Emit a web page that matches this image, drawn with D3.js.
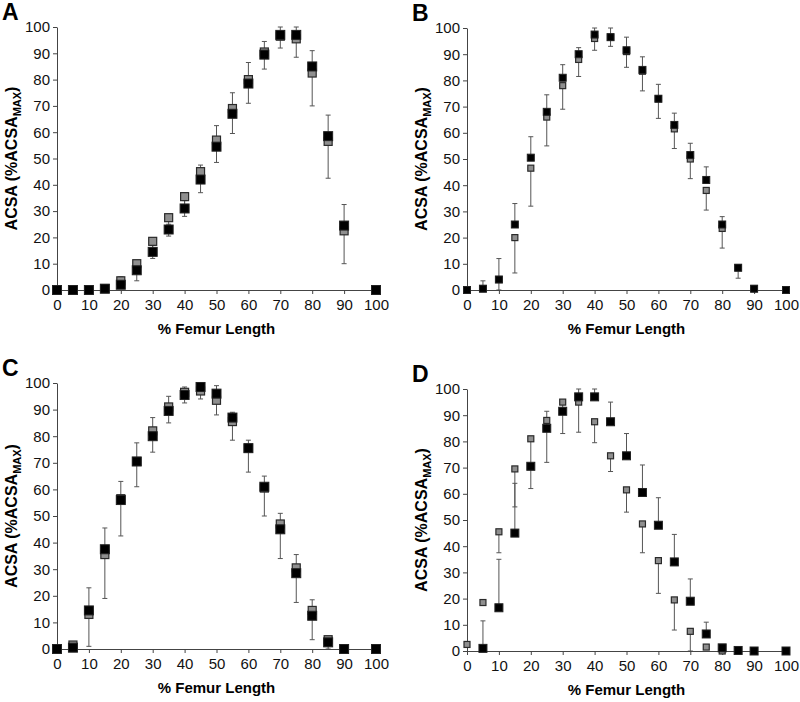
<!DOCTYPE html>
<html>
<head>
<meta charset="utf-8">
<script src="https://cdn.jsdelivr.net/npm/d3@7"></script>
<style>
  body { margin: 0; background: #fff; }
  svg text { font-family: "Liberation Sans", Arial, sans-serif; }
</style>
</head>
<body>
<div class="chart"></div>
<script>
const WIDTH = 800;
const HEIGHT = 702;

// % femur length positions
var femur = [0, 5, 10, 15, 20, 25, 30, 35, 40, 45, 50, 55, 60, 65, 70, 75, 80, 85, 90, 100];
var ticks = [0, 10, 20, 30, 40, 50, 60, 70, 80, 90, 100];

// panel A
var blackA   = [0, 0, 0, 0.5, 2, 7.5, 14.5, 23, 31, 42, 54.5, 67, 78.5, 89.5, 97, 97, 85, 58.5, 24.5, 0];
var grayA    = [0, 0, 0, 0.5, 3.5, 10, 18.5, 27.5, 35.5, 45, 57, 69, 80, 90.5, 96.5, 95.5, 82.5, 56.5, 22.5, 0];
var blackHiA = [0, 0, 0, 0.5, 5, 11, 17, 25, 34, 47.5, 62.5, 75, 86.5, 94.5, 100, 100, 91, 66.5, 32.5, 0];
var grayLoA  = [0, 0, 0, 0.5, 1, 3.5, 12, 20.5, 28, 37, 48.5, 59.5, 71, 84, 92, 88.5, 70, 42.5, 10, 0];

// panel B
var blackB   = [0, 0.5, 4, 25, 50.5, 68, 81, 90, 97.5, 96.5, 91.5, 84, 73, 63, 51.5, 42, 25, 8.5, 0.5, 0];
var grayB    = [0, 0.5, 4, 20, 46.5, 66, 78, 88, 96, 96.5, 91, 83.5, 73, 61.5, 50, 38, 23.5, 8.5, 0.5, 0];
var blackHiB = [0, 3.5, 12, 33, 58.5, 74.5, 86, 92.5, 100, 100, 96.5, 89, 78.5, 67.5, 56, 47, 28, 8.5, 0.5, 0];
var grayLoB  = [0, 0, 0, 6.5, 32, 55, 69, 81.5, 91.5, 93, 85, 76, 65.5, 54, 42.5, 30.5, 16, 4.5, 0.5, 0];

// panel C
var blackC   = [0, 0.5, 14.5, 37.5, 56, 70.5, 80, 89.5, 95.5, 98.5, 96, 87, 75.5, 61, 45, 28.5, 12.5, 2.5, 0, 0];
var grayC    = [0, 1.5, 13, 35.5, 56.5, 70.5, 82, 91, 96.5, 97, 93.5, 85.5, 75.5, 60.5, 47, 30.5, 14.5, 3.5, 0, 0];
var blackHiC = [0, 0.5, 23, 45.5, 63, 77.5, 87, 95, 98.5, 100, 99, 89, 78.5, 65, 51, 35.5, 18.5, 2.5, 0, 0];
var grayLoC  = [0, 1.5, 1, 19, 42.5, 61, 74, 85, 92.5, 94, 88, 78.5, 66.5, 50, 34, 17.5, 3.5, 0, 0, 0];

// panel D
var blackD   = [null, 1, 16.5, 45, 70.5, 85, 91.5, 97, 97, 87.5, 74.5, 60.5, 48, 34, 19, 6.5, 1.2, 0.2, 0, 0];
var grayD    = [2.5, 18.5, 45.5, 69.5, 81, 88, 95, 95, 87.5, 74.5, 61.5, 48.5, 34.5, 19.5, 7.5, 1.5, 0, 0, 0, 0];
var blackHiD = [null, 11.5, 35, 64, 70.5, 91.5, 91.5, 100, 100, 95, 83, 71, 58.5, 44.5, 27.5, 11, 1.2, 0.2, 0, 0];
var grayLoD  = [2.5, 18.5, 37.5, 55, 62, 72, 83, 83.5, 79.5, 68.5, 53, 37.5, 22, 8, 0, 1.5, 0, 0, 0, 0];

var panels = [
  {label: 'A', left: 57, right: 376, bottom: 290, top: 27, black: blackA, gray: grayA, hi: blackHiA, lo: grayLoA, bs: 9, gs: 8},
  {label: 'B', left: 467, right: 786, bottom: 290, top: 28, black: blackB, gray: grayB, hi: blackHiB, lo: grayLoB, bs: 7, gs: 6},
  {label: 'C', left: 57, right: 376, bottom: 649, top: 383, black: blackC, gray: grayC, hi: blackHiC, lo: grayLoC, bs: 9, gs: 8},
  {label: 'D', left: 467, right: 786, bottom: 651, top: 389, black: blackD, gray: grayD, hi: blackHiD, lo: grayLoD, bs: 8, gs: 6}
];

var translate = function (x, y) {
  return 'translate(' + x + ',' + y + ')';
};

var svg = d3.select('.chart').append('svg')
  .attr('width', WIDTH)
  .attr('height', HEIGHT);

var drawPanel = function (p) {
  var xScale = d3.scaleLinear().domain([0, 100]).range([p.left, p.right]);
  var yScale = d3.scaleLinear().domain([0, 100]).range([p.bottom, p.top]);
  var g = svg.append('g');

  // error bars: black upward, gray downward
  var bars = [];
  femur.forEach(function (f, i) {
    if (p.black[i] != null && p.hi[i] > p.black[i] + 0.3) bars.push({x: f, a: p.black[i], b: p.hi[i]});
    if (p.gray[i] != null && p.lo[i] < p.gray[i] - 0.3) bars.push({x: f, a: p.gray[i], b: p.lo[i]});
  });
  var eb = g.append('g').attr('stroke', '#555').attr('stroke-width', 1);
  eb.selectAll('line.v').data(bars).enter().append('line')
    .attr('x1', function (d) { return xScale(d.x); })
    .attr('x2', function (d) { return xScale(d.x); })
    .attr('y1', function (d) { return yScale(d.a); })
    .attr('y2', function (d) { return yScale(d.b); });
  eb.selectAll('line.c').data(bars).enter().append('line')
    .attr('x1', function (d) { return xScale(d.x) - 2.5; })
    .attr('x2', function (d) { return xScale(d.x) + 2.5; })
    .attr('y1', function (d) { return yScale(d.b); })
    .attr('y2', function (d) { return yScale(d.b); });

  // axes
  var xAxis = d3.axisBottom(xScale).tickValues(ticks).tickSize(4).tickSizeOuter(0).tickPadding(5);
  var yAxis = d3.axisLeft(yScale).tickValues(ticks).tickSize(4).tickSizeOuter(0).tickPadding(3);
  var ax = g.append('g').attr('transform', translate(0, p.bottom)).call(xAxis);
  var ay = g.append('g').attr('transform', translate(p.left, 0)).call(yAxis);
  [ax, ay].forEach(function (a) {
    a.select('.domain').attr('stroke', '#444');
    a.selectAll('.tick line').attr('stroke', '#444');
    a.selectAll('.tick text').attr('fill', '#111')
      .style('font-size', '15px')
      .style('font-family', '"Liberation Sans", Arial, sans-serif');
  });

  // gray squares then black squares
  var grayPts = femur.map(function (f, i) { return {x: f, y: p.gray[i]}; }).filter(function (d) { return d.y != null; });
  var blackPts = femur.map(function (f, i) { return {x: f, y: p.black[i]}; }).filter(function (d) { return d.y != null; });

  g.selectAll('rect.gray').data(grayPts).enter().append('rect')
    .attr('x', function (d) { return xScale(d.x) - p.gs / 2; })
    .attr('y', function (d) { return yScale(d.y) - p.gs / 2; })
    .attr('width', p.gs).attr('height', p.gs)
    .attr('fill', '#8f8f8f').attr('stroke', '#2a2a2a').attr('stroke-width', 1.2);

  g.selectAll('rect.black').data(blackPts).enter().append('rect')
    .attr('x', function (d) { return xScale(d.x) - p.bs / 2; })
    .attr('y', function (d) { return yScale(d.y) - p.bs / 2; })
    .attr('width', p.bs).attr('height', p.bs)
    .attr('fill', '#000').attr('stroke', '#222').attr('stroke-width', 1);

  // titles
  g.append('text')
    .attr('x', (p.left + p.right) / 2)
    .attr('y', p.bottom + 44)
    .attr('text-anchor', 'middle')
    .style('font-size', '15px').style('font-weight', 'bold')
    .text('% Femur Length');

  var yt = g.append('text')
    .attr('transform', translate(p.left - 40, (p.top + p.bottom) / 2) + ' rotate(-90)')
    .attr('text-anchor', 'middle')
    .style('font-size', '16px').style('font-weight', 'bold');
  yt.append('tspan').text('ACSA (%ACSA');
  yt.append('tspan').attr('dy', 4).style('font-size', '11px').text('MAX');
  yt.append('tspan').attr('dy', -4).text(')');

  g.append('text')
    .attr('x', p.left - 55)
    .attr('y', p.top - 7)
    .style('font-size', '23px').style('font-weight', 'bold')
    .text(p.label);
};

panels.forEach(drawPanel);
</script>
</body>
</html>
